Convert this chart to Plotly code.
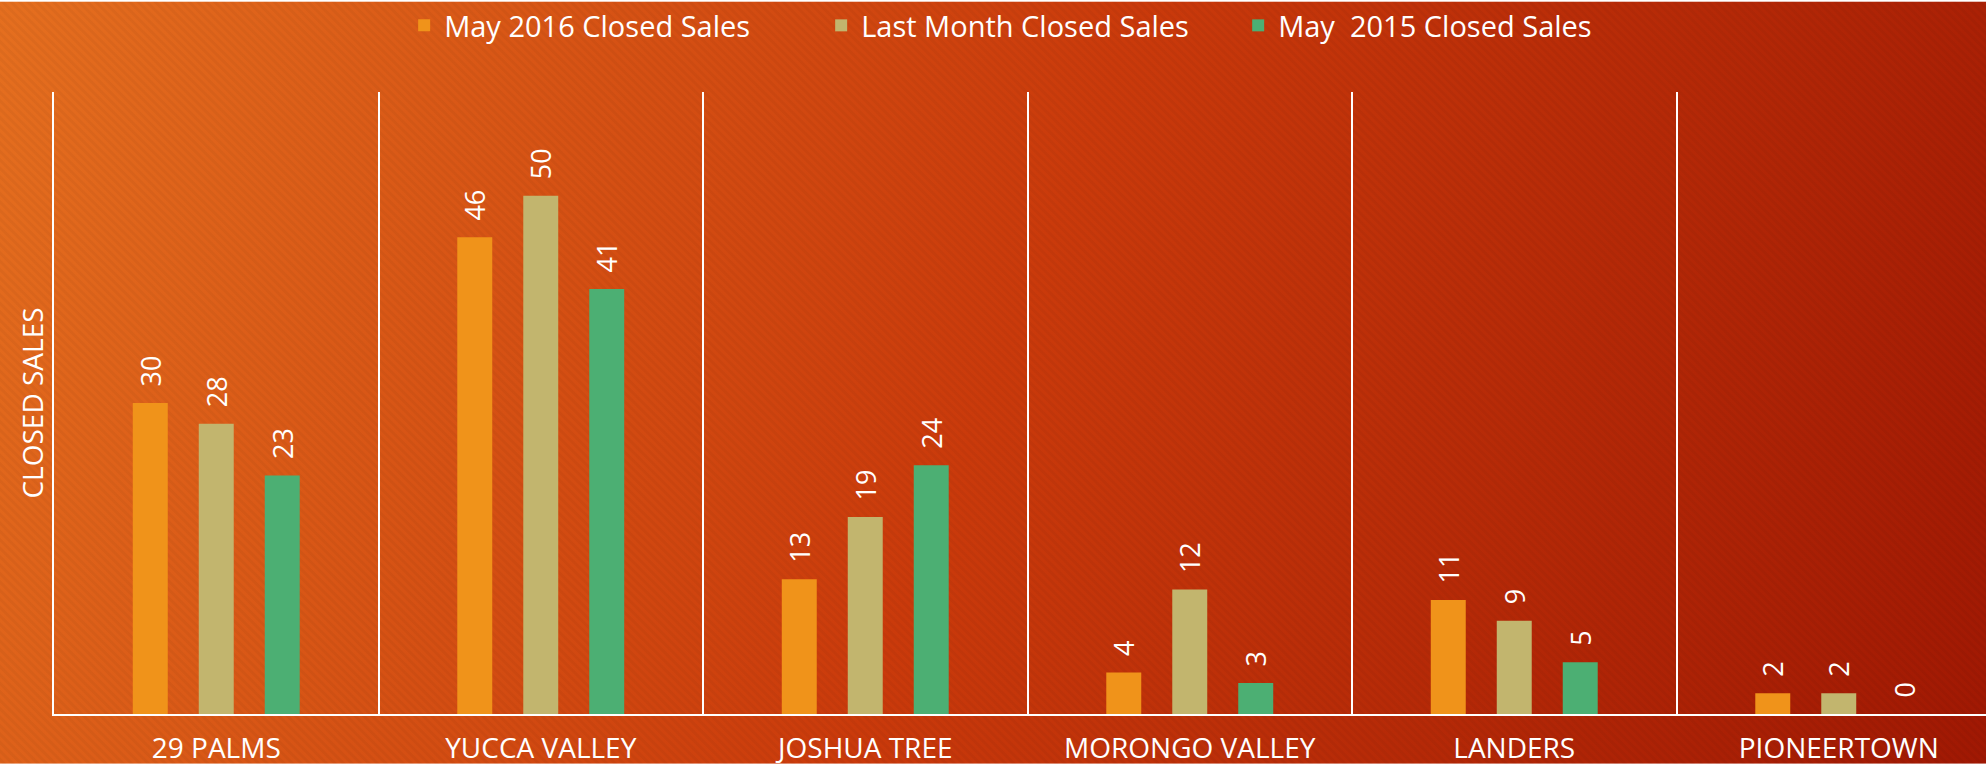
import base64
import plotly.graph_objects as go

areas = ["29 PALMS", "YUCCA VALLEY", "JOSHUA TREE", "MORONGO VALLEY", "LANDERS", "PIONEERTOWN"]
may_2016 = [30, 46, 13, 4, 11, 2]
last_month = [28, 50, 19, 12, 9, 2]
may_2015 = [23, 41, 24, 3, 5, 0]

series_names = ["May 2016 Closed Sales", "Last Month Closed Sales", "May\u00a0 2015 Closed Sales"]
series_colors = ["#F0931A", "#C2B56E", "#4CAF73"]

W, H = 1986, 766
L, R, T, B = 54, 0, 91, 50

# orange -> dark red diagonal backdrop with faint stripes
bg_svg = f"""<svg xmlns='http://www.w3.org/2000/svg' width='{W}' height='{H}'>
<defs>
<linearGradient id='g2' x1='0' y1='0' x2='{W}' y2='{H}' gradientUnits='userSpaceOnUse'>
<stop offset='0' stop-color='#E56F1F'/>
<stop offset='0.5' stop-color='#CA3A0B'/>
<stop offset='1' stop-color='#A01803'/>
</linearGradient>
<pattern id='p' width='6' height='6' patternUnits='userSpaceOnUse' patternTransform='rotate(-45)'>
<rect width='3' height='6' fill='#000' fill-opacity='0.035'/>
</pattern>
</defs>
<rect width='{W}' height='{H}' fill='url(#g2)'/>
<rect width='{W}' height='{H}' fill='url(#p)'/>
</svg>"""
bg_uri = "data:image/svg+xml;base64," + base64.b64encode(bg_svg.encode()).decode()

pw = W - L - R
ph = H - T - B

fig = go.Figure()
for name, vals, col in zip(series_names, [may_2016, last_month, may_2015], series_colors):
    fig.add_trace(
        go.Bar(
            x=areas,
            y=vals,
            name=name,
            marker=dict(color=col, line=dict(width=0)),
            text=vals,
            # en space keeps the label off the bar top like the original
            texttemplate="\u2002%{text}",
            textposition="outside",
            textangle=-90,
            constraintext="none",
            textfont=dict(color="white", size=27, family="Open Sans"),
            cliponaxis=False,
        )
    )

fig.update_layout(
    width=W,
    height=H,
    margin=dict(l=L, r=R, t=T, b=B),
    paper_bgcolor="rgba(0,0,0,0)",
    plot_bgcolor="rgba(0,0,0,0)",
    barmode="group",
    bargap=0.39,
    bargroupgap=0.47,
    font=dict(family="Open Sans", color="white"),
    showlegend=True,
    legend=dict(
        orientation="h",
        x=0.505,
        xanchor="center",
        y=1 + (T - 24) / ph,
        yanchor="middle",
        font=dict(size=29, color="white"),
        bgcolor="rgba(0,0,0,0)",
        entrywidth=372,
        itemwidth=30,
    ),
    images=[
        dict(
            source=bg_uri,
            xref="paper",
            yref="paper",
            x=-L / pw,
            y=1 + T / ph,
            sizex=W / pw,
            sizey=H / ph,
            xanchor="left",
            yanchor="top",
            sizing="stretch",
            layer="below",
        )
    ],
)

fig.update_xaxes(
    range=[-0.5, -0.5 + pw / 324.5],
    tickson="boundaries",
    showgrid=True,
    gridcolor="white",
    gridwidth=2,
    ticks="",
    showline=True,
    linecolor="white",
    linewidth=2,
    tickfont=dict(size=28, color="white", family="Open Sans"),
    ticklabelstandoff=8,
    zeroline=False,
)
fig.update_yaxes(
    range=[0, 60],
    showgrid=False,
    showticklabels=False,
    zeroline=False,
    showline=True,
    linecolor="white",
    linewidth=2,
    title=dict(text="CLOSED SALES", font=dict(size=28, color="white"), standoff=0),
)

fig.write_html(
    "out.html",
    config={"displayModeBar": False},
    post_script=(
        "document.body.style.margin='0';"
        "document.body.style.overflow='hidden';"
        "document.documentElement.style.overflow='hidden';"
    ),
)
